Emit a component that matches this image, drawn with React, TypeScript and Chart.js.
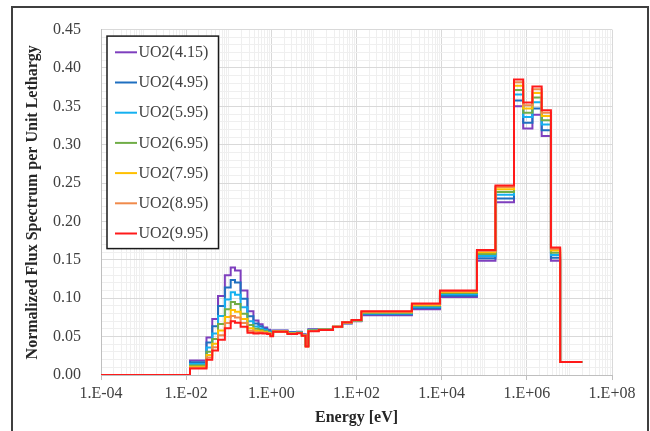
import React, { useEffect, useRef } from 'react';
import { Chart, registerables } from 'chart.js';

Chart.register(...registerables);

// ---------------- DATA ----------------
const seriesLabels = ['UO2(4.15)', 'UO2(4.95)', 'UO2(5.95)', 'UO2(6.95)', 'UO2(7.95)', 'UO2(8.95)', 'UO2(9.95)'];
const seriesColors = ['#7E3FBE', '#1F6FC0', '#14B0F0', '#70AD47', '#FFC000', '#F08A4B', '#FF1A1A'];

// energy group boundaries [eV] (lower edges, last entry = upper edge of last group)
const groupEdges = [
  1e-4, 0.0123, 0.030, 0.041, 0.056, 0.081, 0.111, 0.14, 0.19, 0.275,
  0.38, 0.5, 0.625, 0.8, 0.95, 1.1, 2.4, 4.0, 5.2, 6.4,
  7.4, 13, 28, 46, 77, 130, 2000, 9118, 67340, 183000,
  500000, 821000, 1353000, 2231000, 3679000, 6065500, 2e7,
];

const fluxUO2_415 = [
  0, 0.0190, 0.0490, 0.0730, 0.1030, 0.1300, 0.1400, 0.1360, 0.1100, 0.0830,
  0.0710, 0.0660, 0.0620, 0.0590, 0.0565, 0.0580, 0.0560, 0.0565, 0.0530, 0.0390,
  0.0595, 0.0600, 0.0625, 0.0672, 0.0700, 0.0780, 0.0857, 0.1015, 0.1490, 0.2250,
  0.3500, 0.3210, 0.3390, 0.3115, 0.1490, 0.0170,
];
const fluxUO2_495 = [
  0, 0.0166, 0.0423, 0.0636, 0.0899, 0.1141, 0.1239, 0.1204, 0.0992, 0.0766,
  0.0671, 0.0634, 0.0602, 0.0577, 0.0551, 0.0577, 0.0554, 0.0560, 0.0525, 0.0385,
  0.0589, 0.0597, 0.0626, 0.0675, 0.0704, 0.0791, 0.0873, 0.1034, 0.1521, 0.2298,
  0.3577, 0.3285, 0.3471, 0.3189, 0.1527, 0.0170,
];
const fluxUO2_595 = [
  0, 0.0142, 0.0357, 0.0541, 0.0768, 0.0983, 0.1078, 0.1047, 0.0884, 0.0701,
  0.0632, 0.0607, 0.0583, 0.0565, 0.0537, 0.0573, 0.0549, 0.0556, 0.0521, 0.0381,
  0.0584, 0.0594, 0.0627, 0.0678, 0.0707, 0.0802, 0.0889, 0.1052, 0.1552, 0.2347,
  0.3654, 0.3360, 0.3553, 0.3262, 0.1565, 0.0170,
];
const fluxUO2_695 = [
  0, 0.0123, 0.0304, 0.0468, 0.0665, 0.0858, 0.0952, 0.0925, 0.0799, 0.0651,
  0.0601, 0.0586, 0.0569, 0.0555, 0.0527, 0.0570, 0.0544, 0.0552, 0.0517, 0.0377,
  0.0579, 0.0592, 0.0628, 0.0681, 0.0710, 0.0811, 0.0902, 0.1067, 0.1575, 0.2384,
  0.3714, 0.3417, 0.3616, 0.3319, 0.1594, 0.0170,
];
const fluxUO2_795 = [
  0, 0.0108, 0.0261, 0.0406, 0.0580, 0.0755, 0.0847, 0.0823, 0.0729, 0.0609,
  0.0576, 0.0569, 0.0557, 0.0547, 0.0518, 0.0568, 0.0540, 0.0549, 0.0514, 0.0374,
  0.0575, 0.0590, 0.0629, 0.0683, 0.0712, 0.0819, 0.0913, 0.1080, 0.1598, 0.2419,
  0.3770, 0.3472, 0.3675, 0.3373, 0.1621, 0.0170,
];
const fluxUO2_895 = [
  0, 0.0096, 0.0229, 0.0361, 0.0517, 0.0679, 0.0770, 0.0748, 0.0677, 0.0578,
  0.0557, 0.0557, 0.0548, 0.0541, 0.0511, 0.0567, 0.0538, 0.0547, 0.0512, 0.0372,
  0.0573, 0.0588, 0.0629, 0.0685, 0.0714, 0.0825, 0.0923, 0.1092, 0.1616, 0.2448,
  0.3815, 0.3516, 0.3723, 0.3417, 0.1643, 0.0170,
];
const fluxUO2_995 = [
  0, 0.0086, 0.0200, 0.0320, 0.0460, 0.0610, 0.0700, 0.0680, 0.0630, 0.0550,
  0.0540, 0.0545, 0.0540, 0.0535, 0.0505, 0.0565, 0.0535, 0.0545, 0.0510, 0.0370,
  0.0570, 0.0587, 0.0630, 0.0686, 0.0716, 0.0830, 0.0930, 0.1100, 0.1630, 0.2470,
  0.3850, 0.3550, 0.3760, 0.3450, 0.1660, 0.0170,
];

const xMajorTicks = [1e-4, 1e-2, 1, 1e2, 1e4, 1e6, 1e8];
const xTickLabels = ['1.E-04', '1.E-02', '1.E+00', '1.E+02', '1.E+04', '1.E+06', '1.E+08'];
const yMajorTicks = [0, 0.05, 0.1, 0.15, 0.2, 0.25, 0.3, 0.35, 0.4, 0.45];
const yTickLabels = ['0.00', '0.05', '0.10', '0.15', '0.20', '0.25', '0.30', '0.35', '0.40', '0.45'];
const yMinorTicks = [
  0.01, 0.02, 0.03, 0.04, 0.06, 0.07, 0.08, 0.09, 0.11, 0.12, 0.13, 0.14, 0.16, 0.17, 0.18, 0.19,
  0.21, 0.22, 0.23, 0.24, 0.26, 0.27, 0.28, 0.29, 0.31, 0.32, 0.33, 0.34, 0.36, 0.37, 0.38, 0.39,
  0.41, 0.42, 0.43, 0.44,
];

const seriesValues = [fluxUO2_415, fluxUO2_495, fluxUO2_595, fluxUO2_695, fluxUO2_795, fluxUO2_895, fluxUO2_995];

// ---------------- helpers ----------------
const near = (a: number, b: number) => Math.abs(a - b) <= Math.abs(b) * 1e-9 + 1e-12;

const xGridTicks: number[] = (() => {
  const out: number[] = [];
  for (let n = -4; n <= 7; n++) {
    for (let k = 1; k <= 9; k++) out.push(Number((k * Math.pow(10, n)).toPrecision(12)));
  }
  out.push(1e8);
  return out;
})();
const yGridTicks = [...yMajorTicks, ...yMinorTicks].sort((a, b) => a - b);

const isXMajor = (v: number) => xMajorTicks.some((m) => near(v, m));
const isYMajor = (v: number) => yMajorTicks.some((m) => near(v, m));

function toSteps(values: number[]) {
  const pts = values.map((v, i) => ({ x: groupEdges[i], y: v }));
  pts.push({ x: groupEdges[groupEdges.length - 1], y: values[values.length - 1] });
  return pts;
}

const legendBoxPlugin = {
  id: 'legendBox',
  afterDraw(chart: any) {
    const { ctx, chartArea } = chart;
    const x0 = chartArea.left + 6;
    const y0 = chartArea.top + 6.5;
    const w = 111.5;
    const h = 212.5;
    ctx.save();
    ctx.fillStyle = '#ffffff';
    ctx.fillRect(x0, y0, w, h);
    ctx.lineWidth = 1.5;
    ctx.strokeStyle = '#1a1a1a';
    ctx.strokeRect(x0, y0, w, h);
    ctx.font = '16px "Liberation Serif", "Times New Roman", serif';
    ctx.textBaseline = 'middle';
    ctx.textAlign = 'left';
    chart.data.datasets.forEach((ds: any, i: number) => {
      const y = y0 + 16.2 + i * 30.2;
      ctx.strokeStyle = ds.borderColor;
      ctx.lineWidth = 2;
      ctx.beginPath();
      ctx.moveTo(x0 + 8, y);
      ctx.lineTo(x0 + 30, y);
      ctx.stroke();
      ctx.fillStyle = '#404040';
      ctx.fillText(ds.label, x0 + 31.5, y + 0.5);
    });
    ctx.restore();
  },
};

export default function App() {
  const canvasRef = useRef<HTMLCanvasElement | null>(null);

  useEffect(() => {
    if (!canvasRef.current) return;
    Chart.defaults.font.family = '"Liberation Serif", "Times New Roman", serif';
    const chart = new Chart(canvasRef.current, {
      type: 'line',
      data: {
        datasets: seriesLabels.map((label, i) => ({
          label,
          data: toSteps(seriesValues[i]),
          borderColor: seriesColors[i],
          backgroundColor: seriesColors[i],
          borderWidth: 2,
          pointRadius: 0,
          pointHoverRadius: 0,
          stepped: 'before' as const,
          fill: false,
          borderJoinStyle: 'miter' as const,
          order: seriesLabels.length - 1 - i,
        })),
      },
      options: {
        responsive: false,
        animation: false,
        devicePixelRatio: 1,
        events: [],
        layout: { padding: { left: 0, right: 38, top: 25, bottom: 0 } },
        plugins: { legend: { display: false }, tooltip: { enabled: false } },
        scales: {
          x: {
            type: 'logarithmic',
            min: 1e-4,
            max: 1e8,
            afterBuildTicks: (s: any) => {
              s.ticks = xGridTicks.map((v) => ({ value: v }));
            },
            afterFit: (s: any) => {
              s.height = 56;
            },
            ticks: {
              autoSkip: false,
              maxRotation: 0,
              minRotation: 0,
              padding: 4,
              color: '#404040',
              font: { size: 16 },
              callback: (v: any) => {
                const i = xMajorTicks.findIndex((m) => near(Number(v), m));
                return i >= 0 ? xTickLabels[i] : '';
              },
            },
            grid: {
              color: (c: any) => (c.tick && isXMajor(c.tick.value) ? '#d9d9d9' : '#efefef'),
              lineWidth: 1,
              drawTicks: true,
              tickLength: 5,
              tickColor: (c: any) => (c.tick && isXMajor(c.tick.value) ? '#bfbfbf' : 'rgba(0,0,0,0)'),
            },
            border: { display: true, color: '#bfbfbf', width: 1 },
            title: {
              display: true,
              text: 'Energy [eV]',
              color: '#262626',
              font: { size: 16, weight: 'bold' },
              padding: { top: 0, bottom: 4 },
            },
          },
          y: {
            type: 'linear',
            min: 0,
            max: 0.45,
            afterBuildTicks: (s: any) => {
              s.ticks = yGridTicks.map((v) => ({ value: v }));
            },
            afterFit: (s: any) => {
              s.width = 101;
            },
            ticks: {
              autoSkip: false,
              padding: 20,
              color: '#404040',
              font: { size: 16 },
              callback: (v: any) => {
                const i = yMajorTicks.findIndex((m) => near(Number(v), m));
                return i >= 0 ? yTickLabels[i] : '';
              },
            },
            grid: {
              color: (c: any) => (c.tick && isYMajor(c.tick.value) ? '#d9d9d9' : '#efefef'),
              lineWidth: 1,
              drawTicks: false,
            },
            border: { display: true, color: '#bfbfbf', width: 1 },
            title: {
              display: true,
              text: 'Normalized Flux Spectrum per Unit Lethargy',
              color: '#262626',
              font: { size: 16, weight: 'bold' },
              padding: { top: 23, bottom: 0 },
            },
          },
        },
      },
      plugins: [legendBoxPlugin],
    } as any);
    return () => chart.destroy();
  }, []);

  return (
    <div
      style={{
        position: 'fixed',
        left: 0,
        top: 0,
        width: 650,
        height: 431,
        background: '#ffffff',
        overflow: 'hidden',
      }}
    >
      <div
        style={{
          position: 'absolute',
          left: 11,
          top: 6,
          width: 638,
          height: 460,
          boxSizing: 'border-box',
          border: '2px solid #3f3f3f',
        }}
      />
      <canvas
        ref={canvasRef}
        width={650}
        height={431}
        style={{ position: 'absolute', left: 0, top: 0, width: 650, height: 431 }}
      />
    </div>
  );
}
